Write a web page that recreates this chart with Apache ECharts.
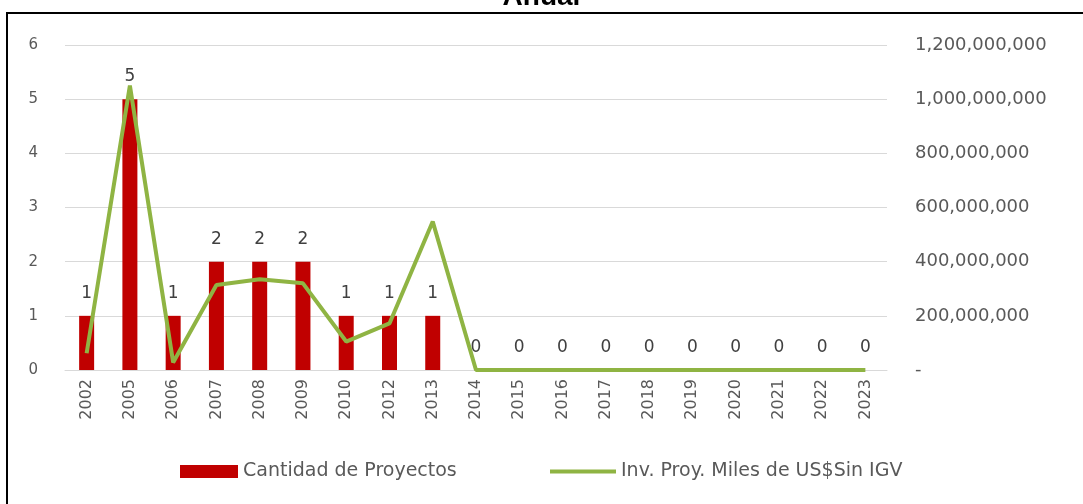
<!DOCTYPE html>
<html>
<head>
<meta charset="utf-8">
<script src="https://cdn.jsdelivr.net/npm/echarts@6/dist/echarts.min.js"></script>
<style>
  html, body { margin: 0; padding: 0; background: #ffffff; }
  #chart { width: 1083px; height: 504px; }
</style>
</head>
<body>
<div id="chart"></div>
<script>
const YEARS = ["2002", "2005", "2006", "2007", "2008", "2009", "2010", "2012", "2013", "2014",
  "2015", "2016", "2017", "2018", "2019", "2020", "2021", "2022", "2023"];
const PROJECT_COUNT = [1, 5, 1, 2, 2, 2, 1, 1, 1, 0, 0, 0, 0, 0, 0, 0, 0, 0, 0];
const INVESTMENT = [62e6, 1050e6, 28e6, 314e6, 335e6, 320e6, 105e6, 172e6, 548e6, 0,
  0, 0, 0, 0, 0, 0, 0, 0, 0];

const BAR_NAME = "Cantidad de Proyectos";
const LINE_NAME = "Inv. Proy. Miles de US$Sin IGV";

const COLORS = {
  bar: "#C00000",
  line: "#8FB443",
  text: "#595959",
  grid: "#D9D9D9",
};

const FONT = "DejaVu Sans";

function formatMoney(value) {
  if (value === 0) return "-";
  return value.toString().replace(/\B(?=(\d{3})+(?!\d))/g, ",");
}

const chart = echarts.init(document.getElementById("chart"), null, { renderer: "canvas" });

const legendText = { color: COLORS.text, fontFamily: FONT, fontSize: 19 };

chart.setOption({
  backgroundColor: "#ffffff",
  animation: false,
  title: {
    text: "Anual",
    left: "center",
    top: -22,
    textStyle: { fontFamily: "Liberation Sans", fontSize: 28, fontWeight: "bold", color: "#000000" },
  },
  graphic: [
    {
      type: "rect",
      shape: { x: 7, y: 13, width: 1090, height: 500 },
      style: { fill: null, stroke: "#000000", lineWidth: 2 },
      silent: true,
    },
  ],
  grid: { left: 65, right: 196, top: 45, bottom: 134, containLabel: false },
  legend: [
    {
      left: 175,
      top: 457,
      itemWidth: 58,
      itemHeight: 13,
      textStyle: legendText,
      data: [{ name: BAR_NAME, icon: "rect" }],
    },
    {
      left: 545,
      top: 457,
      itemWidth: 66,
      itemHeight: 4,
      textStyle: legendText,
      data: [{ name: LINE_NAME, icon: "rect" }],
    },
  ],
  xAxis: {
    type: "category",
    data: YEARS,
    axisTick: { show: false },
    axisLine: { lineStyle: { color: COLORS.grid } },
    axisLabel: { rotate: 90, color: COLORS.text, fontFamily: FONT, fontSize: 16, margin: 9, interval: 0 },
  },
  yAxis: [
    {
      type: "value",
      min: 0,
      max: 6,
      interval: 1,
      axisLabel: { color: COLORS.text, fontFamily: FONT, fontSize: 15, margin: 27 },
      splitLine: { lineStyle: { color: COLORS.grid, width: 1 } },
    },
    {
      type: "value",
      min: 0,
      max: 1200000000,
      interval: 200000000,
      axisLabel: { color: COLORS.text, fontFamily: FONT, fontSize: 18, margin: 28, formatter: formatMoney },
      splitLine: { show: false },
    },
  ],
  series: [
    {
      name: BAR_NAME,
      type: "bar",
      data: PROJECT_COUNT,
      barWidth: 15,
      itemStyle: { color: COLORS.bar },
      label: {
        show: true,
        position: "top",
        distance: 14,
        color: "#404040",
        fontFamily: FONT,
        fontSize: 17,
      },
    },
    {
      name: LINE_NAME,
      type: "line",
      yAxisIndex: 1,
      data: INVESTMENT,
      symbol: "none",
      lineStyle: { color: COLORS.line, width: 4 },
      itemStyle: { color: COLORS.line },
    },
  ],
});
</script>
</body>
</html>
